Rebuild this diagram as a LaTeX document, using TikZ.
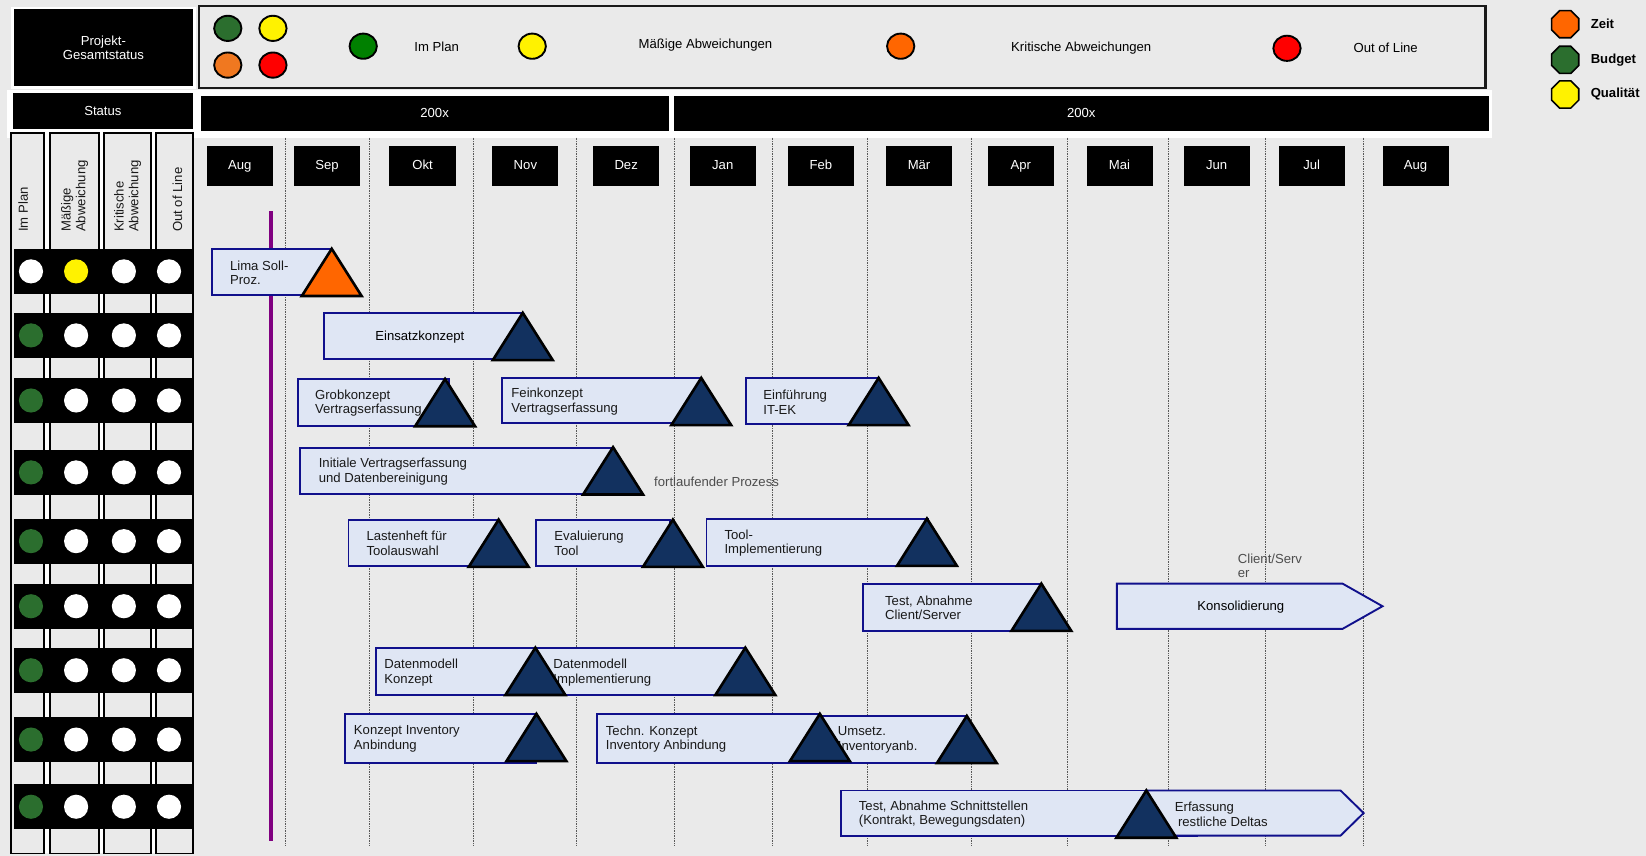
\documentclass[tikz,border=0pt]{standalone}
\usepackage{fontspec}
\setmainfont{Liberation Sans}
\usetikzlibrary{shapes.geometric}

\definecolor{bg}{HTML}{EAEAEA}
\definecolor{barfill}{HTML}{DFE6F4}
\definecolor{barline}{HTML}{10108C}
\definecolor{msfill}{HTML}{12315F}
\definecolor{msorange}{HTML}{FF6600}
\definecolor{lampgreen}{HTML}{2B6E2E}
\definecolor{okgreen}{HTML}{008000}
\definecolor{keyorange}{HTML}{F07820}
\definecolor{todayline}{HTML}{800080}
\definecolor{notegray}{HTML}{4D4D4D}

\tikzset{
  hdr/.style={fill=black, text=white, inner sep=0pt},
  monthbox/.style={fill=black, text=white, minimum width=63pt, minimum height=38pt, inner sep=0pt},
  gridline/.style={gray!70!black, densely dotted, line width=0.6pt},
  colhead/.style={draw=black, fill=bg, line width=1.8pt},
  lamp/.style={circle, minimum size=23pt, inner sep=0pt},
  keylamp/.style={ellipse, draw=black, line width=1.8pt, minimum width=26pt, minimum height=24pt, inner sep=0pt},
  flag/.style={regular polygon, regular polygon sides=8, draw=black, line width=1.5pt, minimum size=28pt, inner sep=0pt},
  bar/.style={draw=barline, fill=barfill, line width=1.8pt},
  ms/.style={draw=black, fill=msfill, line width=2.5pt, line join=miter},
  lbl/.style={anchor=west, align=left, inner sep=0pt, text=black!90},
  note/.style={anchor=west, align=left, inner sep=0pt, text=notegray},
}
% Meilenstein: Spitze oben an (#2)
\newcommand{\mstone}[2][msfill]{\filldraw[ms, fill=#1] (#2) -- ++(-28.5,45) -- ++(57,0) -- cycle;}

\begin{document}
\fontsize{12.5}{14}\selectfont
\begin{tikzpicture}[x=1pt,y=-1pt]
\useasboundingbox (0,0) rectangle (1568,815);
\fill[bg] (0,0) rectangle (1568,815);

% Legende oben
\node[hdr, draw=white, line width=2.5pt, minimum width=173pt, minimum height=76pt, align=center] (proj) at (98.5,45.5) {Projekt-\\Gesamtstatus};
\draw[line width=2.2pt, draw=black!90, fill=bg] (189.5,5.5) rectangle (1415,84);
\node[keylamp, fill=lampgreen] (k1) at (217,27) {};
\node[keylamp, fill=yellow] (k2) at (260,27) {};
\node[keylamp, fill=keyorange] (k3) at (217,62) {};
\node[keylamp, fill=red] (k4) at (260,62) {};
\node[keylamp, fill=okgreen] (kplan) at (346,44) {};
\node (tplan) at (416,45) {Im Plan};
\node[keylamp, fill=yellow] (kmaess) at (507,44) {};
\node (tmaess) at (672,43) {Mäßige Abweichungen};
\node[keylamp, fill=msorange] (kkrit) at (858,44) {};
\node (tkrit) at (1030,46) {Kritische Abweichungen};
\node[keylamp, fill=red] (kout) at (1226,46) {};
\node (tout) at (1320,46) {Out of Line};

% Zeit / Budget / Qualitaet
\node[flag, fill=msorange] (fzeit) at (1491,23) {};
\node[anchor=west, font=\bfseries] (tzeit) at (1511,23) {Zeit};
\node[flag, fill=lampgreen] (fbudget) at (1491,57) {};
\node[anchor=west, font=\bfseries] (tbudget) at (1511,57) {Budget};
\node[flag, fill=yellow] (fqual) at (1491,90) {};
\node[anchor=west, font=\bfseries] (tqual) at (1511,90) {Qualität};

% Kopfzeile
\fill[white] (7,86) rectangle (1421,131);
\node[hdr, minimum width=172pt, minimum height=34pt] (status) at (98,105.5) {Status};
\node[hdr, minimum width=446pt, minimum height=34pt] (jahr1) at (414,108) {200x};
\node[hdr, minimum width=776pt, minimum height=34pt] (jahr2) at (1030,108) {200x};

% Monatsraster
\foreach \x in {272,352,451,549,642,736,826,925,1017,1113,1205,1299}
  \draw[gridline] (\x,131) -- (\x,806);
\foreach \m/\x [count=\i] in {Aug/228.5,Sep/311.5,Okt/402.5,Nov/500.5,Dez/596.5,Jan/688.5,Feb/782,Mär/875.5,Apr/972.5,Mai/1066.5,Jun/1159,Jul/1249.5,Aug/1348.5}
  \node[monthbox] (m\i) at (\x,158) {\m\vphantom{g}};

% Statusspalten
\fill[white] (42,127) rectangle (148.5,813);
\draw[colhead] (10.5,127) rectangle (42,813);
\draw[colhead] (48,127) rectangle (94,813);
\draw[colhead] (99,127) rectangle (144,813);
\draw[colhead] (148.5,127) rectangle (184,813);
\node[lbl, rotate=90] (h1) at (22,221) {Im Plan};
\node[lbl, rotate=90] (h2) at (71,221) {Mäßige\\Abweichung};
\node[lbl, rotate=90] (h3) at (121.5,221) {Kritische\\Abweichung};
\node[lbl, rotate=90] (h4) at (169,221) {Out of Line};

\foreach \y/\ca/\cb [count=\i] in {258.5/white/yellow,319.5/lampgreen/white,381.5/lampgreen/white,450/lampgreen/white,515.5/lampgreen/white,577.5/lampgreen/white,638.5/lampgreen/white,704.5/lampgreen/white,768.5/lampgreen/white}{
  \fill[black] (13,\y-21.5) rectangle (184,\y+21.5);
  \node[lamp, fill=\ca] (lamp\i-1) at (29.5,\y) {};
  \node[lamp, fill=\cb] (lamp\i-2) at (72.5,\y) {};
  \node[lamp, fill=white] (lamp\i-3) at (118,\y) {};
  \node[lamp, fill=white] (lamp\i-4) at (161,\y) {};
}

% Stichtag
\draw[todayline, line width=4pt] (258,201) -- (258,801);

% Vorgaenge
\draw[bar] (202,237) rectangle (316,281);
\node[lbl] (t1) at (219,260) {Lima Soll-\\Proz.};
\mstone[msorange]{316,237}

\draw[bar] (309,298) rectangle (498,342);
\node (t2) at (400,321) {Einsatzkonzept};
\mstone{498,298}

\draw[bar] (284,361) rectangle (428,406);
\node[lbl] (t3) at (300,384) {Grobkonzept\\Vertragserfassung};
\mstone{424,361}

\draw[bar] (478,360) rectangle (667,403);
\node[lbl] (t4) at (487,382.5) {Feinkonzept\\Vertragserfassung};
\mstone{668,360}

\draw[bar] (711,360) rectangle (836,404);
\node[lbl] (t5) at (727,383) {Einführung\\IT-EK};
\mstone{837,360}

\draw[bar] (286,427) rectangle (584,471);
\node[lbl] (t6) at (303.5,449.5) {Initiale Vertragserfassung\\und Datenbereinigung};
\mstone{584,426}
\node[note] (n1) at (623,459) {fortlaufender Prozess};

\draw[bar] (332,495) rectangle (475,539);
\node[lbl] (t7) at (349,517.5) {Lastenheft für\\Toolauswahl};
\mstone{475,495}

\draw[bar] (511,495) rectangle (638,539);
\node[lbl] (t8) at (528,517.5) {Evaluierung\\Tool};
\mstone{641,495}

\draw[bar] (673,494) rectangle (884,539);
\node[lbl] (t9) at (690,517.5) {Tool-\\Implementierung};
\mstone{883,494}

\draw[bar] (822,556) rectangle (992,601);
\node[lbl] (t10) at (843,579) {Test, Abnahme\\Client/Server};
\mstone{992,556}

\node[note] (n2) at (1179,539) {Client/Serv\\er};
\draw[bar] (1064,556) -- (1279,556) -- (1317,577.5) -- (1279,599) -- (1064,599) -- cycle;
\node (t11) at (1182,578.5) {Konsolidierung};

\draw[bar] (358,617) rectangle (510,662);
\node[lbl] (t12) at (366,641) {Datenmodell\\Konzept};
\draw[bar] (510,617) rectangle (710,662);
\node[lbl] (t13) at (527,641) {Datenmodell\\Implementierung};
\mstone{510,617}
\mstone{710,617}

\draw[bar] (329,680) rectangle (511,727);
\node[lbl] (t14) at (337,704) {Konzept Inventory\\Anbindung};
\mstone{511,680}

\draw[bar] (569,680) rectangle (781,727);
\node[lbl] (t15) at (577,704) {Techn. Konzept\\Inventory Anbindung};
\draw[bar] (781,682) rectangle (921,727);
\node[lbl] (t16) at (798,705) {Umsetz.\\Inventoryanb.};
\mstone{781,680}
\mstone{921,682}

\draw[bar] (801,753) rectangle (1140,796);
\node[lbl] (t17) at (818,775.5) {Test, Abnahme Schnittstellen\\(Kontrakt, Bewegungsdaten)};
\draw[bar] (1092,753) -- (1277,753) -- (1299,774.5) -- (1277,796) -- (1092,796) -- cycle;
\node[lbl] (t18) at (1119,775.5) {Erfassung\\\hspace*{3pt}restliche Deltas};
\mstone{1092,753}

\end{tikzpicture}
\end{document}
